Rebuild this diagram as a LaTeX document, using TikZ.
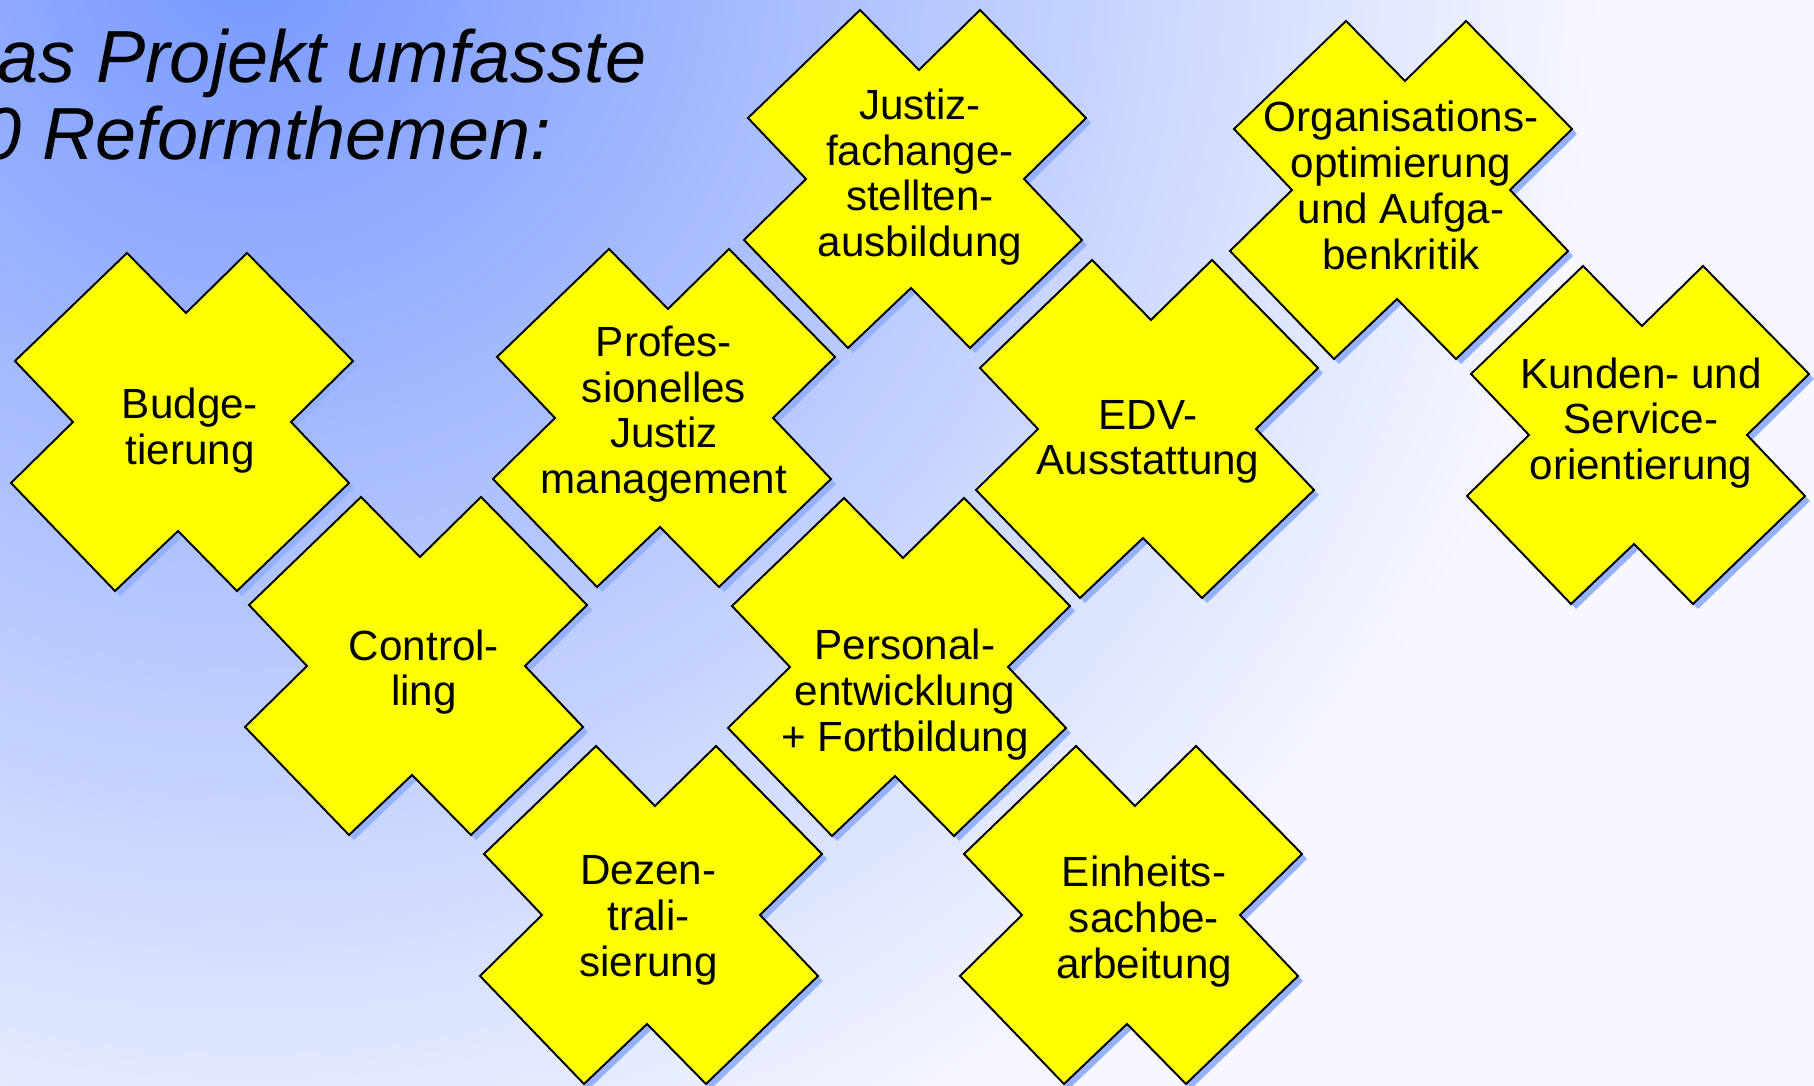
\documentclass[tikz,border=0pt]{standalone}
\usepackage{fontspec}
\setmainfont{Liberation Sans}

\definecolor{kreuzgelb}{RGB}{255,255,0}
\definecolor{schatten}{RGB}{150,178,255}
\definecolor{hgblau}{RGB}{118,152,255}
\definecolor{hgweiss}{RGB}{246,247,255}

\pgfdeclareradialshading{hintergrund}{\pgfpoint{0bp}{0bp}}{color(0bp)=(hgblau); color(25bp)=(hgweiss); color(50bp)=(hgweiss)}

\tikzset{
  kreuz/.style={draw=black, line width=0.55pt, fill=kreuzgelb,
    preaction={fill=schatten, transform canvas={xshift=0.5mm, yshift=-0.5mm}}},
  kreuzform/.pic={
    \path[kreuz] (4,-109) -- (65,-169) -- (171,-61) -- (109,0) -- (167,61)
      -- (55,169) -- (-4,109) -- (-67,169) -- (-171,61) -- (-109,0)
      -- (-167,-61) -- (-55,-169) -- cycle;
  },
  thema/.style={align=center, inner sep=0pt, font=\fontsize{12}{13}\selectfont},
  titel/.style={anchor=base west, inner sep=0pt, font=\fontsize{21}{22}\selectfont\itshape}
}

\begin{document}
\begin{tikzpicture}[x=0.01cm, y=-0.01cm]
  \useasboundingbox (0,0) rectangle (1814,1086);
  \begin{scope}
    \clip (0,0) rectangle (1814,1086);
    \fill[hgweiss] (0,0) rectangle (1814,1086);
    \shade[shading=hintergrund] (250,-50) circle [radius=13.5cm];

    % Ueberschrift
    \node[titel] (titel1) at (-3,83) {as Projekt umfasste};
    \node[titel] (titel2) at (-20,160) {0 Reformthemen:};

    % Reformthemen
    \pic at (182,422) {kreuzform};
    \node[thema] (budget) at (190,430.5) {Budge-\\tierung};

    \pic at (915,179) {kreuzform};
    \node[thema] (justiz) at (920,177) {Justiz-\\fachange-\\stellten-\\ausbildung};

    \pic at (664,418) {kreuzform};
    \node[thema] (profes) at (664,414) {Profes-\\sionelles\\Justiz\\management};

    \pic at (1401,190) {kreuzform};
    \node[thema] (organ) at (1401,185.5) {Organisations-\\optimierung\\und Aufga-\\benkritik};

    \pic at (1638,435) {kreuzform};
    \node[thema] (kunden) at (1641,423) {Kunden- und\\Service-\\orientierung};

    \pic at (1147,429) {kreuzform};
    \node[thema] (edv) at (1148,442) {EDV-\\Ausstattung};

    \pic at (416,666) {kreuzform};
    \node[thema] (controll) at (424,672) {Control-\\ling};

    \pic at (899,667) {kreuzform};
    \node[thema] (personal) at (905,694.5) {Personal-\\entwicklung\\+ Fortbildung};

    \pic at (651,915) {kreuzform};
    \node[thema] (dezentral) at (648.5,920.5) {Dezen-\\trali-\\sierung};

    \pic at (1131,915) {kreuzform};
    \node[thema] (einheit) at (1144,921.5) {Einheits-\\sachbe-\\arbeitung};
  \end{scope}
\end{tikzpicture}
\end{document}
